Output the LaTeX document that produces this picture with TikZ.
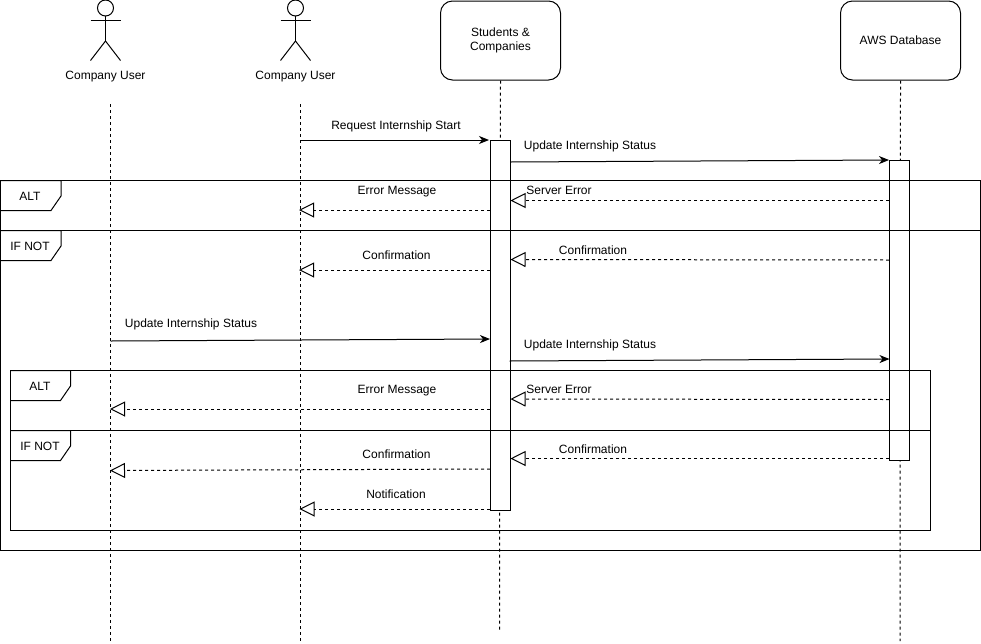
\documentclass[tikz,border=0pt]{standalone}
\usepackage{fontspec}
\setmainfont{Liberation Sans}
\usetikzlibrary{arrows.meta}

\tikzset{
  box/.style={draw,rounded corners=12pt,minimum width=120pt,minimum height=79pt,align=center,font=\sysfont},
  activation/.style={draw,fill=white,minimum width=20pt,inner sep=0pt},
  lifeline/.style={dash pattern=on 3pt off 3pt},
  call/.style={-{Stealth[length=10pt,width=8pt,inset=3pt]}},
  reply/.style={dash pattern=on 3pt off 3pt,-{Triangle[open,length=15pt,width=15pt]}},
  msg/.style={font=\sysfont,inner sep=0pt},
  frame/.style={draw},
  frametab/.style={font=\sysfont,inner sep=0pt}
}
\newcommand{\sysfont}{\fontsize{12}{14}\selectfont}

\begin{document}
\begin{tikzpicture}[x=1pt,y=-1pt,line width=1pt]
\useasboundingbox (0,0) rectangle (981,643);

% lifelines
\node[box,draw=none] (students) at (500.5,40.5) {};
\node[box,draw=none] (aws) at (900.5,40.5) {};
\coordinate (userAtop) at (110.5,104);
\coordinate (userAend) at (110.5,641);
\coordinate (userBtop) at (300,104);
\coordinate (userBend) at (300,641);
\coordinate (studentsend) at (499.5,631);
\coordinate (awsend) at (900,641);
\draw[lifeline] (userAtop) -- (userAend);
\draw[lifeline] (userBtop) -- (userBend);
\draw[lifeline] (students.south) -- (studentsend);
\draw[lifeline] (aws.south) -- (awsend);

% heads
\node[box] (studentsbox) at (500.5,40.5) {\raisebox{-2pt}{Students \&}\\[1pt]\raisebox{-1.5pt}{Companies}};
\node[box] (awsbox) at (900.5,40.5) {\raisebox{-1pt}{AWS Database}};

% actors
\foreach \name/\x in {userA/105.5,userB/295.5}{
  \draw (\x,8) circle (8);
  \draw (\x,16) -- (\x,41);
  \draw (\x-15,20) -- (\x+15,20);
  \draw (\x-15,60.5) -- (\x,41) -- (\x+15,60.5);
  \node[msg] (\name) at (\x,76.5) {Company User};
}

% activations
\node[activation,minimum height=370pt] (studentsact) at (500.5,325) {};
\node[activation,minimum height=300pt] (awsact) at (899.5,310) {};

% frames
\draw[frame] (0,180.5) rectangle (980.5,230.5);
\draw[frame] (0,230.5) rectangle (980.5,550);
\draw[frame] (10.5,370.5) rectangle (930.5,430.5);
\draw[frame] (10.5,430.5) rectangle (930.5,530);

\draw (0,180.5) -- (61,180.5) -- (61,196) -- (51,210.5) -- (0,210.5);
\draw (0,230.5) -- (61,230.5) -- (61,246) -- (51,260.5) -- (0,260.5);
\draw (10.5,370.5) -- (70.5,370.5) -- (70.5,386) -- (60.5,400.5) -- (10.5,400.5);
\draw (10.5,430.5) -- (70.5,430.5) -- (70.5,446) -- (60.5,460.5) -- (10.5,460.5);
\node[frametab] (altA) at (30,196) {ALT};
\node[frametab] (ifnotA) at (30,246) {IF NOT};
\node[frametab] (altB) at (40,386) {ALT};
\node[frametab] (ifnotB) at (40,446) {IF NOT};

% message ends
\foreach \name/\x/\y in {
  m1a/300/140,m1b/489/140,
  m2a/510.5/162,m2b/889/160,
  m3a/490/210,m3b/299/210,
  m4a/889/200.5,m4b/510.5/200.5,
  m5a/490/270,m5b/299/270,
  m6a/889/260,m6b/510.5/259.5,
  m7a/110.5/341,m7b/490/339,
  m8a/509.5/361,m8b/889.5/359,
  m9a/490/409,m9b/110/409,
  m10a/889/399.5,m10b/510.5/399,
  m11a/490/469,m11b/110/470.5,
  m12a/889/458.5,m12b/510.5/458.5,
  m13a/490/509,m13b/299.5/509}
  \coordinate (\name) at (\x,\y);

% messages
\draw[call] (m1a) -- (m1b);
\draw[call] (m2a) -- (m2b);
\draw[reply] (m3a) -- (m3b);
\draw[reply] (m4a) -- (m4b);
\draw[reply] (m5a) -- (m5b);
\draw[reply] (m6a) -- (m6b);
\draw[call] (m7a) -- (m7b);
\draw[call] (m8a) -- (m8b);
\draw[reply] (m9a) -- (m9b);
\draw[reply] (m10a) -- (m10b);
\draw[reply] (m11a) -- (m11b);
\draw[reply] (m12a) -- (m12b);
\draw[reply] (m13a) -- (m13b);

% labels
\node[msg] (m1label) at (396,126.5) {Request Internship Start};
\node[msg] (m2label) at (590,146.5) {Update Internship Status};
\node[msg] (m3label) at (397,192) {Error Message};
\node[msg] (m4label) at (559,190.5) {Server Error};
\node[msg] (m5label) at (396.5,255.5) {Confirmation};
\node[msg] (m6label) at (593,250.5) {Confirmation};
\node[msg] (m7label) at (191,324.5) {Update Internship Status};
\node[msg] (m8label) at (590,345.5) {Update Internship Status};
\node[msg] (m9label) at (397,391) {Error Message};
\node[msg] (m10label) at (559,389.5) {Server Error};
\node[msg] (m11label) at (396.5,454.5) {Confirmation};
\node[msg] (m12label) at (593,449.5) {Confirmation};
\node[msg] (m13label) at (396,494.5) {Notification};
\end{tikzpicture}
\end{document}
